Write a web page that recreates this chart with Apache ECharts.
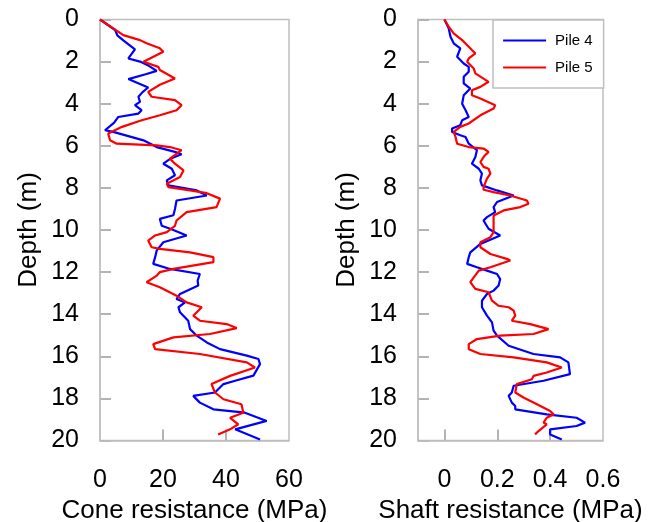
<!DOCTYPE html>
<html>
<head>
<meta charset="utf-8">
<script src="https://cdn.jsdelivr.net/npm/echarts@6/dist/echarts.min.js"></script>
<style>
  html, body { margin: 0; padding: 0; background: #fff; }
  #chart { width: 659px; height: 522px; }
</style>
</head>
<body>
<div id="chart"></div>
<script>
// [depth (m), value]
const pile4Cone = [[0,0],[0.5,4.8],[0.75,5.5],[1.0,7.5],[1.42,11.1],[1.85,9.0],[2.0,12.7],[2.2,15.5],[2.44,18.0],[2.6,14.5],[2.83,9.0],[3.05,12.5],[3.23,15.3],[3.45,13.5],[3.67,12.2],[3.91,12.7],[4.07,11.1],[4.31,13.2],[4.47,12.2],[4.63,5.8],[4.9,4.5],[5.26,1.6],[5.34,4.2],[5.74,13.8],[6.06,18.0],[6.29,23.8],[6.4,25.9],[6.6,22.5],[6.85,20.1],[7.09,22.8],[7.4,23.8],[7.64,21.2],[7.88,21.7],[8.12,30.7],[8.36,33.9],[8.6,24.3],[9.0,23.8],[9.3,23.3],[9.47,19.0],[9.8,19.6],[9.95,22.5],[10.26,27.5],[10.58,20.1],[10.98,18.0],[11.29,17.5],[11.61,16.9],[11.85,22.2],[12.09,31.7],[12.4,31.0],[12.64,31.2],[13.04,25.4],[13.28,24.3],[13.44,27.0],[13.67,24.9],[13.91,25.4],[14.31,28.0],[14.71,28.6],[15.02,30.7],[15.34,33.9],[15.66,38.1],[15.97,46.6],[16.13,50.3],[16.37,50.8],[16.92,48.7],[17.16,42.9],[17.32,39.2],[17.72,36.5],[17.88,29.6],[18.2,31.7],[18.52,36.0],[18.68,46.0],[19.07,52.9],[19.47,42.9],[19.95,50.8]];
const pile5Cone = [[0,0],[0.42,4.2],[0.74,7.4],[0.98,12.7],[1.13,14.8],[1.37,19.0],[1.53,20.1],[2.01,13.8],[2.25,18.5],[2.4,19.0],[2.8,23.8],[3.1,19.0],[3.44,15.3],[3.67,16.4],[3.83,23.8],[4.07,25.9],[4.31,24.3],[4.55,19.0],[4.8,13.0],[5.1,7.0],[5.42,2.6],[5.74,3.2],[5.9,5.3],[5.98,18.0],[6.06,22.2],[6.21,25.9],[6.61,22.2],[6.85,23.8],[7.17,26.5],[7.48,25.4],[7.8,21.2],[7.96,21.7],[8.12,28.6],[8.25,33.9],[8.51,38.1],[8.91,37.0],[9.15,27.5],[9.55,24.3],[9.8,23.8],[10.1,21.2],[10.26,17.5],[10.5,15.3],[10.82,16.4],[10.9,19.0],[11.06,28.6],[11.29,36.0],[11.53,36.0],[11.85,23.3],[12.0,19.0],[12.17,18.0],[12.48,14.8],[12.72,19.0],[13.12,24.3],[13.44,27.5],[13.67,32.3],[14.07,29.6],[14.31,31.7],[14.47,40.2],[14.66,43.4],[14.94,34.9],[15.1,23.3],[15.42,16.9],[15.66,17.5],[15.89,31.7],[16.29,46.6],[16.53,49.2],[16.93,41.3],[17.32,35.4],[17.72,36.5],[18.04,39.2],[18.28,44.9],[18.68,45.5],[18.92,41.3],[19.23,43.9],[19.47,41.3],[19.71,37.5]];
const pile4Shaft = [[0,0],[0.42,0.016],[0.82,0.023],[1.13,0.035],[1.37,0.06],[1.77,0.048],[2.09,0.073],[2.25,0.092],[2.48,0.092],[2.72,0.073],[3.04,0.073],[3.28,0.098],[3.6,0.073],[4.0,0.067],[4.07,0.06],[4.31,0.08],[4.63,0.092],[4.79,0.067],[5.02,0.06],[5.18,0.029],[5.34,0.029],[5.5,0.06],[5.58,0.08],[5.9,0.092],[6.21,0.123],[6.53,0.117],[6.85,0.104],[7.09,0.13],[7.32,0.142],[7.64,0.136],[7.88,0.142],[8.12,0.199],[8.36,0.262],[8.67,0.199],[8.91,0.186],[9.15,0.192],[9.39,0.161],[9.55,0.148],[9.94,0.167],[10.26,0.211],[10.66,0.136],[11.06,0.098],[11.29,0.092],[11.61,0.086],[11.77,0.123],[11.93,0.161],[12.09,0.199],[12.33,0.211],[12.64,0.205],[12.88,0.186],[13.04,0.161],[13.36,0.142],[13.67,0.142],[14.07,0.161],[14.39,0.18],[14.78,0.186],[15.02,0.199],[15.5,0.243],[15.89,0.337],[16.05,0.438],[16.29,0.469],[16.85,0.475],[17.16,0.375],[17.4,0.262],[17.72,0.255],[17.88,0.243],[18.2,0.255],[18.36,0.268],[18.52,0.268],[18.76,0.387],[18.92,0.5],[19.15,0.532],[19.31,0.5],[19.47,0.4],[19.71,0.4],[19.95,0.444]];
const pile5Shaft = [[0,0],[0.34,0.016],[0.66,0.035],[0.98,0.067],[1.13,0.079],[1.45,0.104],[1.61,0.117],[1.85,0.092],[2.01,0.086],[2.33,0.111],[2.56,0.117],[2.96,0.167],[3.2,0.136],[3.36,0.104],[3.6,0.104],[3.75,0.136],[4.07,0.192],[4.23,0.186],[4.55,0.136],[4.94,0.092],[5.1,0.06],[5.34,0.035],[5.58,0.042],[5.9,0.048],[6.06,0.092],[6.13,0.148],[6.29,0.167],[6.5,0.15],[6.77,0.136],[7.0,0.148],[7.09,0.167],[7.32,0.174],[7.56,0.161],[7.96,0.148],[8.09,0.148],[8.2,0.186],[8.36,0.249],[8.6,0.312],[8.75,0.318],[8.91,0.287],[9.07,0.224],[9.31,0.186],[10.1,0.186],[10.34,0.174],[10.58,0.136],[10.82,0.136],[11.14,0.174],[11.37,0.236],[11.45,0.249],[11.77,0.174],[11.93,0.13],[12.25,0.111],[12.48,0.098],[12.8,0.117],[12.96,0.167],[13.36,0.18],[13.6,0.205],[13.67,0.243],[13.83,0.262],[14.07,0.268],[14.31,0.255],[14.47,0.325],[14.71,0.394],[14.94,0.337],[15.02,0.211],[15.18,0.123],[15.42,0.092],[15.66,0.092],[15.89,0.136],[16.05,0.262],[16.29,0.387],[16.53,0.444],[16.77,0.387],[16.93,0.337],[17.09,0.331],[17.32,0.274],[17.72,0.268],[17.96,0.299],[18.28,0.35],[18.6,0.4],[18.76,0.413],[18.92,0.387],[19.15,0.375],[19.23,0.387],[19.55,0.356],[19.71,0.343]];

const coneTicks = [0, 20, 40, 60];
const shaftTicks = [0, 0.2, 0.4, 0.6];
const depthTicks = [0, 2, 4, 6, 8, 10, 12, 14, 16, 18, 20];

const gray = '#bfbfbf';
const tickGray = '#b3b3b3';
const font = 'Liberation Sans, Arial, sans-serif';

const chart = echarts.init(document.getElementById('chart'), null, { renderer: 'canvas' });

// axe des x (résistance)
function xAxisFor(idx, name, min, max, ticks) {
  return {
    gridIndex: idx, type: 'value', position: 'bottom', name: name, nameLocation: 'middle', nameGap: 54,
    nameTextStyle: { fontFamily: font, fontSize: 26, color: '#000' },
    min: min, max: max,
    axisLine: { show: true, onZero: false, lineStyle: { color: gray, width: 1.5 } },
    splitLine: { show: false },
    axisTick: { show: true, inside: true, length: 11, lineStyle: { color: tickGray, width: 2 },
      customValues: ticks.filter(t => t > min && t < max) },
    axisLabel: { margin: 27, fontFamily: font, fontSize: 25, color: '#000',
      customValues: ticks, formatter: v => String(v) }
  };
}

// axe des y (profondeur)
function yAxisFor(idx) {
  return {
    gridIndex: idx, type: 'value', position: 'left', inverse: true, min: 0, max: 20,
    name: 'Depth (m)', nameLocation: 'middle', nameGap: 58,
    nameTextStyle: { fontFamily: font, fontSize: 26, color: '#000' },
    axisLine: { show: true, onZero: false, lineStyle: { color: gray, width: 1.5 } },
    splitLine: { show: false },
    axisTick: { show: false },
    axisLabel: { margin: 21, fontFamily: font, fontSize: 25, color: '#000',
      customValues: depthTicks, formatter: v => String(v) }
  };
}

// bande étroite (11 px) le long de l'axe des profondeurs : ses splitLines servent de graduations
function tickStripX(idx) {
  return { gridIndex: idx, type: 'value', min: 0, max: 1, show: false };
}
function tickStripY(idx) {
  return {
    gridIndex: idx, type: 'value', inverse: true, min: 0, max: 20, interval: 2,
    axisLine: { show: false }, axisTick: { show: false }, axisLabel: { show: false },
    splitLine: { show: true, lineStyle: { color: tickGray, width: 2, type: 'solid' } }
  };
}

function lineSeries(name, color, idx, pairs) {
  return {
    name: name, type: 'line', xAxisIndex: idx, yAxisIndex: idx,
    data: pairs.map(p => [p[1], p[0]]),
    showSymbol: false, symbol: 'none',
    lineStyle: { color: color, width: 2.2 }, itemStyle: { color: color },
    animation: false
  };
}

const option = {
  backgroundColor: '#fff',
  animation: false,
  grid: [
    { left: 100, top: 19.5, width: 189, bottom: 81.5, show: true, borderColor: gray, borderWidth: 1.5, outerBoundsMode: 'none' },
    { left: 418, top: 19.5, width: 185, bottom: 81.5, show: true, borderColor: gray, borderWidth: 1.5, outerBoundsMode: 'none' },
    { left: 100, top: 19.5, width: 11, bottom: 81.5, outerBoundsMode: 'none' },
    { left: 418, top: 19.5, width: 11, bottom: 81.5, outerBoundsMode: 'none' }
  ],
  legend: {
    orient: 'vertical', left: 493, top: 20,
    padding: [13, 11, 13, 9], itemGap: 12, itemWidth: 43, itemHeight: 14,
    backgroundColor: '#fff', borderColor: gray, borderWidth: 1.5, borderRadius: 0,
    itemStyle: { opacity: 0 },
    lineStyle: { width: 2.2 },
    textStyle: { fontFamily: font, fontSize: 15, color: '#000', padding: [0, 0, 0, 4] },
    data: ['Pile 4', 'Pile 5']
  },
  xAxis: [
    xAxisFor(0, 'Cone resistance (MPa)', 0, 60, coneTicks),
    xAxisFor(1, 'Shaft resistance (MPa)', -0.1, 0.6, shaftTicks),
    tickStripX(2),
    tickStripX(3)
  ],
  yAxis: [yAxisFor(0), yAxisFor(1), tickStripY(2), tickStripY(3)],
  series: [
    lineSeries('Pile 4', '#0000ff', 0, pile4Cone),
    lineSeries('Pile 5', '#ff0000', 0, pile5Cone),
    lineSeries('Pile 4', '#0000ff', 1, pile4Shaft),
    lineSeries('Pile 5', '#ff0000', 1, pile5Shaft)
  ]
};

chart.setOption(option);
</script>
</body>
</html>
